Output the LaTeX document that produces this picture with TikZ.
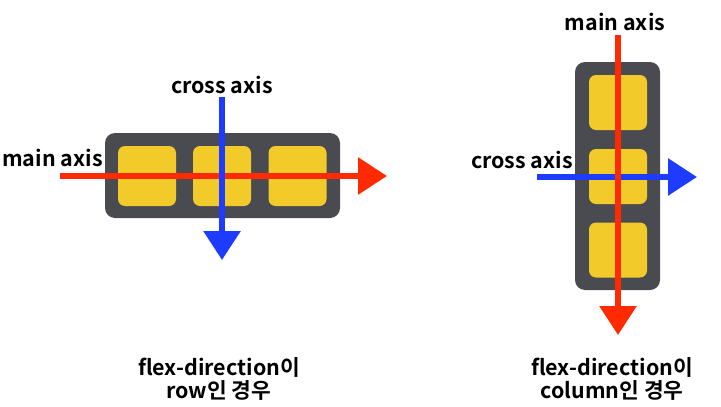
\documentclass[tikz,border=0pt]{standalone}
\usepackage{fontspec}
\setmainfont{Noto Sans CJK KR}[UprightFont=* Bold]
\usetikzlibrary{arrows.meta}
\definecolor{boxdark}{HTML}{4A4B50}
\definecolor{itemyel}{HTML}{F2CA2A}
\definecolor{axisred}{HTML}{FF2A00}
\definecolor{axisblue}{HTML}{1E3CFF}
\begin{document}
\begin{tikzpicture}[x=1in,y=-1in,
  container/.style={fill=boxdark, rounded corners=0.10in, inner sep=0pt},
  item/.style={fill=itemyel, rounded corners=0.07in, inner sep=0pt,
    minimum width=0.58in},
  axis/.style={line width=4.3pt, -{Triangle[length=0.29in,width=0.36in]}},
  lbl/.style={inner sep=0pt, font=\fontsize{15.5}{16.5}\selectfont},
  caption/.style={lbl, align=center}]
\useasboundingbox[fill=white] (0,0) rectangle (7.21,4.07);
% row
\node[container, minimum width=2.35in, minimum height=0.85in] (rowbox) at (2.225,1.755) {};
\node[item, minimum height=0.60in] (r1) at (1.470,1.760) {};
\node[item, minimum height=0.60in] (r2) at (2.220,1.760) {};
\node[item, minimum height=0.60in] (r3) at (2.975,1.760) {};
\coordinate (rmainA) at (0.600,1.760);
\coordinate (rmainB) at (3.870,1.760);
\coordinate (rcrossA) at (2.220,0.970);
\coordinate (rcrossB) at (2.220,2.600);
\draw[axis, axisred] (rmainA) -- (rmainB);
\draw[axis, axisblue] (rcrossA) -- (rcrossB);
\node[lbl] (rmain) at (0.525,1.580) {main axis};
\node[lbl] (rcross) at (2.220,0.850) {cross axis};
\node[caption] (rcap) at (2.190,3.790) {flex-direction이\\row인 경우};
% column
\node[container, minimum width=0.85in, minimum height=2.28in] (colbox) at (6.175,1.760) {};
\node[item, minimum height=0.55in] (c1) at (6.180,1.025) {};
\node[item, minimum height=0.55in] (c2) at (6.180,1.765) {};
\node[item, minimum height=0.55in] (c3) at (6.180,2.500) {};
\coordinate (ccrossA) at (5.370,1.770);
\coordinate (ccrossB) at (6.970,1.770);
\coordinate (cmainA) at (6.180,0.350);
\coordinate (cmainB) at (6.180,3.350);
\draw[axis, axisblue] (ccrossA) -- (ccrossB);
\draw[axis, axisred] (cmainA) -- (cmainB);
\node[lbl] (cmain) at (6.150,0.220) {main axis};
\node[lbl] (ccross) at (5.220,1.600) {cross axis};
\node[caption] (ccap) at (6.120,3.790) {flex-direction이\\column인 경우};
\end{tikzpicture}
\end{document}
